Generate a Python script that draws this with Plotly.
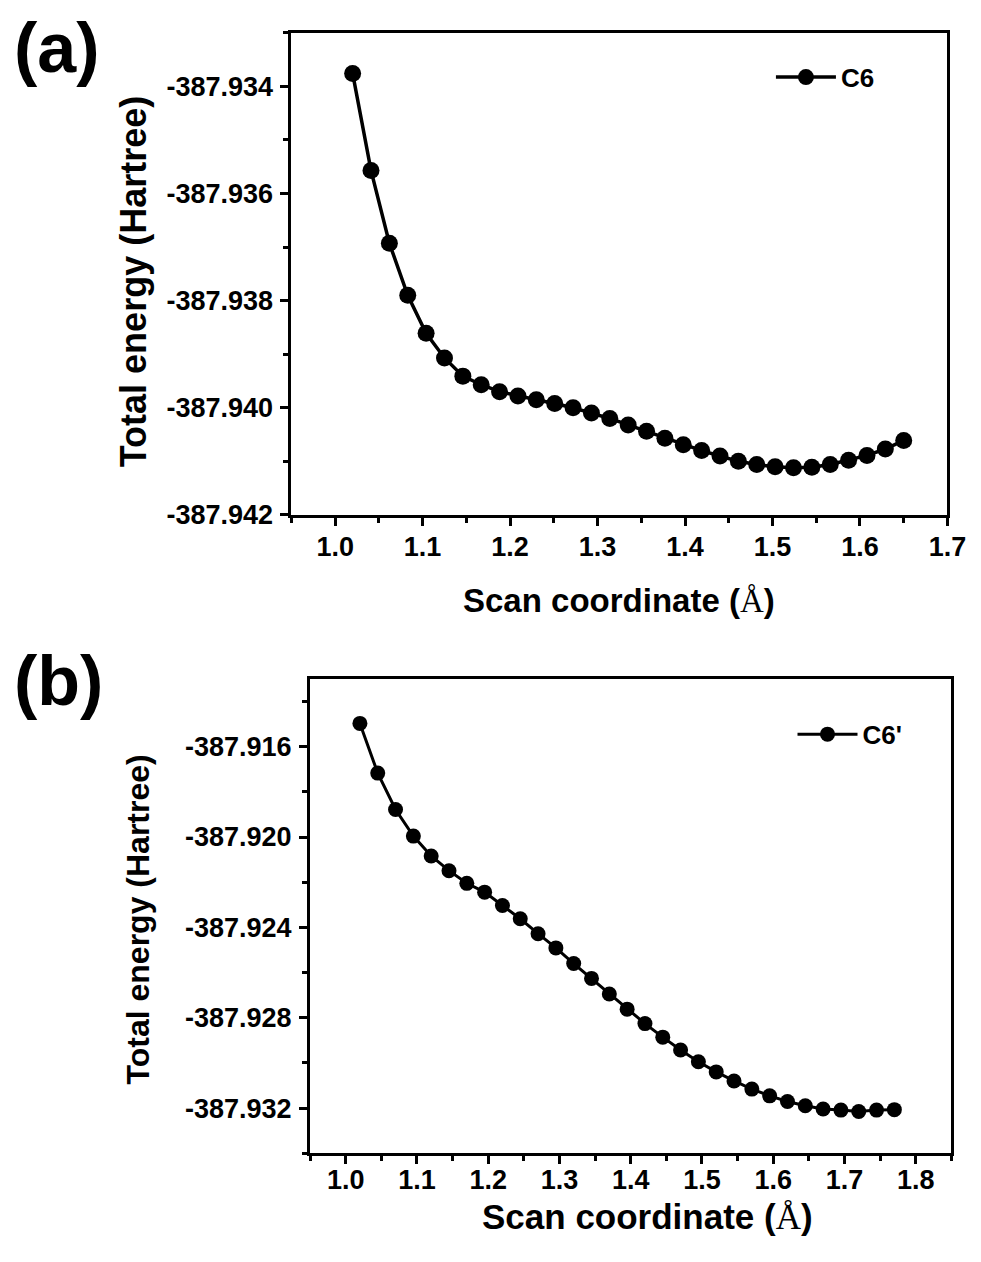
import plotly.graph_objects as go

# ---------------- data ----------------
scan_a = [1.020, 1.041, 1.062, 1.083, 1.104, 1.125, 1.146, 1.167, 1.188, 1.209,
          1.230, 1.251, 1.272, 1.293, 1.314, 1.335, 1.356, 1.377, 1.398, 1.419,
          1.440, 1.461, 1.482, 1.503, 1.524, 1.545, 1.566, 1.587, 1.608, 1.629, 1.650]
energy_a = [-387.93376, -387.93557, -387.93693, -387.93790, -387.93861, -387.93907,
            -387.93941, -387.93957, -387.93970, -387.93978, -387.93985, -387.93992,
            -387.94000, -387.94010, -387.94020, -387.94032, -387.94044, -387.94057,
            -387.94069, -387.94080, -387.94090, -387.94100, -387.94106, -387.94110,
            -387.94112, -387.94111, -387.94106, -387.94098, -387.94089, -387.94077,
            -387.94061]

scan_b = [1.020, 1.045, 1.070, 1.095, 1.120, 1.145, 1.170, 1.195, 1.220, 1.245,
          1.270, 1.295, 1.320, 1.345, 1.370, 1.395, 1.420, 1.445, 1.470, 1.495,
          1.520, 1.545, 1.570, 1.595, 1.620, 1.645, 1.670, 1.695, 1.720, 1.745, 1.770]
energy_b = [-387.91497, -387.91717, -387.91878, -387.91996, -387.92084, -387.92149,
            -387.92205, -387.92244, -387.92303, -387.92362, -387.92428, -387.92491,
            -387.92560, -387.92626, -387.92695, -387.92762, -387.92826, -387.92886,
            -387.92943, -387.92995, -387.93040, -387.93080, -387.93116, -387.93146,
            -387.93171, -387.93190, -387.93204, -387.93209, -387.93215, -387.93209,
            -387.93207]

series_a = "C6"
series_b = "C6'"

xticks_a = [1.0, 1.1, 1.2, 1.3, 1.4, 1.5, 1.6, 1.7]
xticktext_a = ["1.0", "1.1", "1.2", "1.3", "1.4", "1.5", "1.6", "1.7"]
xminor_a = [0.95, 1.05, 1.15, 1.25, 1.35, 1.45, 1.55, 1.65]
yticks_a = [-387.942, -387.940, -387.938, -387.936, -387.934]
yticktext_a = ["-387.942", "-387.940", "-387.938", "-387.936", "-387.934"]
yminor_a = [-387.941, -387.939, -387.937, -387.935, -387.933]

xticks_b = [1.0, 1.1, 1.2, 1.3, 1.4, 1.5, 1.6, 1.7, 1.8]
xticktext_b = ["1.0", "1.1", "1.2", "1.3", "1.4", "1.5", "1.6", "1.7", "1.8"]
xminor_b = [0.95, 1.05, 1.15, 1.25, 1.35, 1.45, 1.55, 1.65, 1.75, 1.85]
yticks_b = [-387.932, -387.928, -387.924, -387.920, -387.916]
yticktext_b = ["-387.932", "-387.928", "-387.924", "-387.920", "-387.916"]
yminor_b = [-387.934, -387.930, -387.926, -387.922, -387.918, -387.914]

x_title = "Scan coordinate (<span style='font-family:Liberation Serif, Times New Roman, serif;font-weight:normal'>Å</span>)"
y_title = "Total energy (Hartree)"

# ---------------- figure ----------------
W, H = 981, 1262
FONT = "Liberation Sans, Arial, sans-serif"

def px(x):
    return x / W

def py(y):
    return 1 - y / H

fig = go.Figure()
fig.add_trace(go.Scatter(x=scan_a, y=energy_a, mode="lines+markers", name=series_a,
                         line=dict(color="black", width=3.5),
                         marker=dict(color="black", size=17),
                         xaxis="x", yaxis="y", legend="legend"))
fig.add_trace(go.Scatter(x=scan_b, y=energy_b, mode="lines+markers", name=series_b,
                         line=dict(color="black", width=3),
                         marker=dict(color="black", size=15),
                         xaxis="x2", yaxis="y2", legend="legend2"))

tickfont = dict(family=FONT, size=27, color="black", weight="bold")
common = dict(showline=True, linewidth=3, linecolor="black", mirror=True,
              ticks="outside", ticklen=8, tickwidth=2.5, tickcolor="black",
              showgrid=False, zeroline=False, tickfont=tickfont, tickmode="array")
minor_style = dict(ticklen=5, tickwidth=2.5, tickcolor="black", ticks="outside")
legend_font = dict(family=FONT, size=26, color="black", weight="bold")

fig.update_layout(
    width=W, height=H, margin=dict(l=0, r=0, t=0, b=0),
    paper_bgcolor="white", plot_bgcolor="white",
    xaxis=dict(domain=[px(289), px(958)], range=[0.95, 1.7], anchor="y",
               tickvals=xticks_a, ticktext=xticktext_a, ticklabelstandoff=-2,
               minor=dict(tickvals=xminor_a, **minor_style), **common),
    yaxis=dict(domain=[py(513), py(25)], range=[-387.942, -387.933], anchor="x",
               tickvals=yticks_a, ticktext=yticktext_a, ticklabelstandoff=2,
               minor=dict(tickvals=yminor_a, **minor_style), **common),
    xaxis2=dict(domain=[px(308), px(962)], range=[0.95, 1.85], anchor="y2",
                tickvals=xticks_b, ticktext=xticktext_b, ticklabelstandoff=-8,
                minor=dict(tickvals=xminor_b, **minor_style), **common),
    yaxis2=dict(domain=[py(1159), py(679)], range=[-387.934, -387.913], anchor="x2",
                tickvals=yticks_b, ticktext=yticktext_b, ticklabelstandoff=2,
                minor=dict(tickvals=yminor_b, **minor_style), **common),
    legend=dict(x=px(778), y=py(70), xanchor="left", yanchor="middle", itemwidth=60,
                bgcolor="rgba(0,0,0,0)", font=legend_font),
    legend2=dict(x=px(800), y=py(735), xanchor="left", yanchor="middle", itemwidth=60,
                 bgcolor="rgba(0,0,0,0)", font=legend_font),
    showlegend=True,
)

annotations = [
    dict(text="(a)", x=px(4), y=py(40), xanchor="left", yanchor="middle",
         font=dict(family=FONT, size=70, color="black", weight="bold")),
    dict(text="(b)", x=px(4), y=py(681), xanchor="left", yanchor="middle",
         font=dict(family=FONT, size=70, color="black", weight="bold")),
    dict(text=x_title, x=px(623), y=py(600), xanchor="center", yanchor="middle",
         font=dict(family=FONT, size=33, color="black", weight="bold")),
    dict(text=x_title, x=px(652), y=py(1224), xanchor="center", yanchor="middle",
         font=dict(family=FONT, size=35, color="black", weight="bold")),
    dict(text=y_title, x=px(128), y=py(277), xanchor="center", yanchor="middle", textangle=-90,
         font=dict(family=FONT, size=36, color="black", weight="bold")),
    dict(text=y_title, x=px(133), y=py(922), xanchor="center", yanchor="middle", textangle=-90,
         font=dict(family=FONT, size=32, color="black", weight="bold")),
]
for a in annotations:
    a.update(xref="paper", yref="paper", showarrow=False)
fig.update_layout(annotations=annotations)

fig.write_html("out.html")
